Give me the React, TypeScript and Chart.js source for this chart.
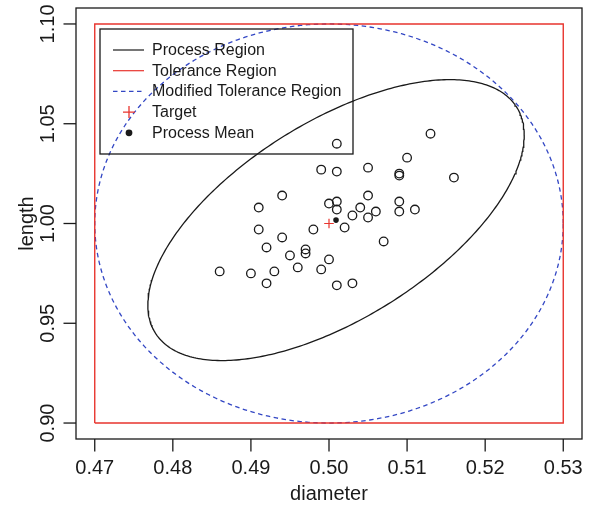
import React, { useEffect, useRef } from "react";
import { Chart, registerables } from "chart.js";

Chart.register(...registerables);

// ---- data ----
const DIAMETER = [
  0.513, 0.501, 0.510, 0.499, 0.501, 0.505, 0.509, 0.509, 0.494, 0.505,
  0.491, 0.500, 0.501, 0.501, 0.509, 0.504, 0.503, 0.506, 0.505, 0.509,
  0.511, 0.491, 0.498, 0.502, 0.494, 0.507, 0.492, 0.497, 0.497, 0.495,
  0.500, 0.496, 0.499, 0.486, 0.490, 0.493, 0.492, 0.501, 0.503, 0.516,
];
const LENGTH = [
  1.045, 1.040, 1.033, 1.027, 1.026, 1.028, 1.025, 1.024, 1.014, 1.014,
  1.008, 1.010, 1.011, 1.007, 1.011, 1.008, 1.004, 1.006, 1.003, 1.006,
  1.007, 0.997, 0.997, 0.998, 0.993, 0.991, 0.988, 0.987, 0.985, 0.984,
  0.982, 0.978, 0.977, 0.976, 0.975, 0.976, 0.970, 0.969, 0.970, 1.023,
];
const TARGET = [0.5, 1.0];
const PROCESS_MEAN = [0.5009, 1.0017];
const TOL_X = [0.47, 0.53];
const TOL_Y = [0.9, 1.1];
// process region ellipse parameters (half-extents and covariance term)
const PROC_HALF_X = 0.0241;
const PROC_HALF_Y = 0.0704;
const PROC_COV = 0.001027;

const X_TICKS = [0.47, 0.48, 0.49, 0.5, 0.51, 0.52, 0.53];
const Y_TICKS = [0.9, 0.95, 1.0, 1.05, 1.1];
const X_RANGE = [0.4676, 0.5324];
const Y_RANGE = [0.892, 1.108];
const X_TITLE = "diameter";
const Y_TITLE = "length";
const LEGEND_LABELS = [
  "Process Region",
  "Tolerance Region",
  "Modified Tolerance Region",
  "Target",
  "Process Mean",
];

const RED = "#e8352e";
const BLUE = "#3347c4";
const INK = "#1a1a1a";
const FONT = "'Liberation Sans', Arial, Helvetica, sans-serif";

function ellipsePoints(cx: number, cy: number, hx: number, hy: number, cov: number, n = 360) {
  const l21 = cov / hx;
  const l22 = Math.sqrt(Math.max(hy * hy - l21 * l21, 0));
  const pts: { x: number; y: number }[] = [];
  for (let i = 0; i <= n; i++) {
    const t = (2 * Math.PI * i) / n;
    pts.push({ x: cx + hx * Math.cos(t), y: cy + l21 * Math.cos(t) + l22 * Math.sin(t) });
  }
  return pts;
}

const framePlugin = {
  id: "rframe",
  afterDraw(chart: any) {
    const { ctx, chartArea } = chart;
    const xs = chart.scales.x;
    const ys = chart.scales.y;
    const { left, right, top, bottom } = chartArea;
    ctx.save();
    ctx.strokeStyle = INK;
    ctx.fillStyle = INK;
    ctx.lineWidth = 1.3;
    ctx.setLineDash([]);
    // box
    ctx.strokeRect(left, top, right - left, bottom - top);
    // x axis ticks and labels
    ctx.font = `20px ${FONT}`;
    ctx.textAlign = "center";
    ctx.textBaseline = "alphabetic";
    for (const v of X_TICKS) {
      const px = xs.getPixelForValue(v);
      ctx.beginPath();
      ctx.moveTo(px, bottom);
      ctx.lineTo(px, bottom + 12.5);
      ctx.stroke();
      ctx.fillText(v.toFixed(2), px, bottom + 35);
    }
    // y axis ticks and labels
    for (const v of Y_TICKS) {
      const py = ys.getPixelForValue(v);
      ctx.beginPath();
      ctx.moveTo(left, py);
      ctx.lineTo(left - 12.5, py);
      ctx.stroke();
      ctx.save();
      ctx.translate(left - 22.5, py);
      ctx.rotate(-Math.PI / 2);
      ctx.fillText(v.toFixed(2), 0, 0);
      ctx.restore();
    }
    // titles
    ctx.fillText(X_TITLE, (left + right) / 2, bottom + 61);
    ctx.save();
    ctx.translate(left - 43, (top + bottom) / 2);
    ctx.rotate(-Math.PI / 2);
    ctx.fillText(Y_TITLE, 0, 0);
    ctx.restore();

    // legend
    const lx = 100, ly = 29, lw = 253, lh = 125;
    ctx.lineWidth = 1.3;
    ctx.strokeStyle = INK;
    ctx.strokeRect(lx, ly, lw, lh);
    ctx.font = `16px ${FONT}`;
    ctx.textAlign = "left";
    ctx.textBaseline = "middle";
    const rowY = (i: number) => ly + 21 + i * 20.7;
    const sx0 = lx + 13, sx1 = lx + 44, scx = lx + 29;
    LEGEND_LABELS.forEach((lab, i) => {
      const y = rowY(i);
      ctx.fillStyle = INK;
      ctx.fillText(lab, lx + 52, y + 0.5);
      ctx.setLineDash([]);
      if (i === 0 || i === 1 || i === 2) {
        ctx.beginPath();
        ctx.lineWidth = 1.2;
        ctx.strokeStyle = i === 0 ? INK : i === 1 ? RED : BLUE;
        if (i === 2) ctx.setLineDash([4.5, 3.5]);
        ctx.moveTo(sx0, y);
        ctx.lineTo(sx1, y);
        ctx.stroke();
        ctx.setLineDash([]);
      } else if (i === 3) {
        ctx.beginPath();
        ctx.lineWidth = 1.3;
        ctx.strokeStyle = RED;
        ctx.moveTo(scx - 6, y);
        ctx.lineTo(scx + 6, y);
        ctx.moveTo(scx, y - 6);
        ctx.lineTo(scx, y + 6);
        ctx.stroke();
      } else {
        ctx.beginPath();
        ctx.fillStyle = INK;
        ctx.arc(scx, y, 3.4, 0, Math.PI * 2);
        ctx.fill();
      }
    });
    ctx.restore();
  },
};

export default function App() {
  const ref = useRef<HTMLCanvasElement | null>(null);
  useEffect(() => {
    if (!ref.current) return;
    const rect = [
      { x: TOL_X[0], y: TOL_Y[0] },
      { x: TOL_X[1], y: TOL_Y[0] },
      { x: TOL_X[1], y: TOL_Y[1] },
      { x: TOL_X[0], y: TOL_Y[1] },
      { x: TOL_X[0], y: TOL_Y[0] },
    ];
    const modified = ellipsePoints(
      (TOL_X[0] + TOL_X[1]) / 2,
      (TOL_Y[0] + TOL_Y[1]) / 2,
      (TOL_X[1] - TOL_X[0]) / 2,
      (TOL_Y[1] - TOL_Y[0]) / 2,
      0
    );
    const proc = ellipsePoints(PROCESS_MEAN[0], PROCESS_MEAN[1], PROC_HALF_X, PROC_HALF_Y, PROC_COV);
    const pts = DIAMETER.map((d, i) => ({ x: d, y: LENGTH[i] }));
    const chart = new Chart(ref.current, {
      type: "scatter",
      data: {
        datasets: [
          {
            label: "Tolerance Region",
            data: rect,
            showLine: true,
            borderColor: RED,
            borderWidth: 1.4,
            pointRadius: 0,
            tension: 0,
          },
          {
            label: "Modified Tolerance Region",
            data: modified,
            showLine: true,
            borderColor: BLUE,
            borderWidth: 1.3,
            borderDash: [4.5, 3.5],
            pointRadius: 0,
            tension: 0,
          },
          {
            label: "Process Region",
            data: proc,
            showLine: true,
            borderColor: INK,
            borderWidth: 1.3,
            pointRadius: 0,
            tension: 0,
          },
          {
            label: "Observations",
            data: pts,
            pointStyle: "circle",
            pointRadius: 4.3,
            pointBorderWidth: 1.3,
            pointBorderColor: INK,
            pointBackgroundColor: "rgba(0,0,0,0)",
            showLine: false,
          },
          {
            label: "Target",
            data: [{ x: TARGET[0], y: TARGET[1] }],
            pointStyle: "cross",
            pointRadius: 4.8,
            pointBorderWidth: 1.2,
            pointBorderColor: RED,
            showLine: false,
          },
          {
            label: "Process Mean",
            data: [{ x: PROCESS_MEAN[0], y: PROCESS_MEAN[1] }],
            pointStyle: "circle",
            pointRadius: 2.8,
            pointBorderWidth: 0,
            pointBackgroundColor: INK,
            showLine: false,
          },
        ],
      },
      options: {
        responsive: false,
        animation: false,
        events: [],
        layout: { padding: { left: 76, right: 9, top: 8, bottom: 68 } },
        plugins: { legend: { display: false }, tooltip: { enabled: false } },
        scales: {
          x: { type: "linear", min: X_RANGE[0], max: X_RANGE[1], display: false },
          y: { type: "linear", min: Y_RANGE[0], max: Y_RANGE[1], display: false },
        },
      },
      plugins: [framePlugin],
    } as any);
    return () => chart.destroy();
  }, []);
  return (
    <div style={{ position: "fixed", left: 0, top: 0, width: 591, height: 507, background: "#fff" }}>
      <canvas ref={ref} width={591} height={507} style={{ display: "block" }} />
    </div>
  );
}
